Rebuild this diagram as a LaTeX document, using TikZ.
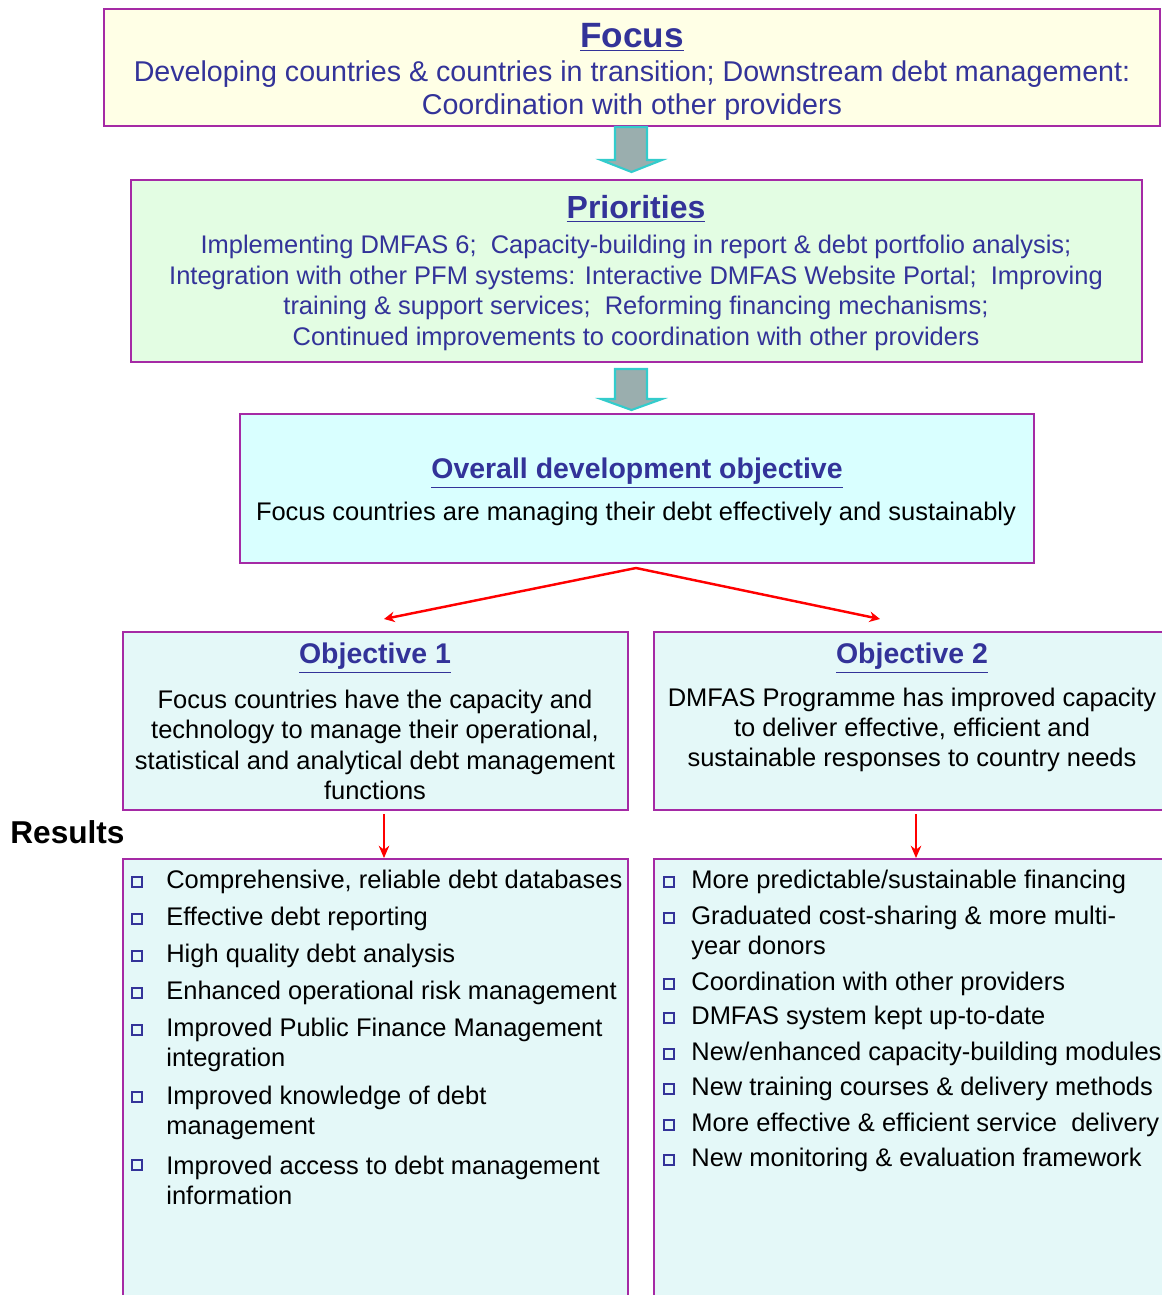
\documentclass[tikz,border=0pt]{standalone}
\usepackage{fontspec}
\setmainfont{Liberation Sans}
\usetikzlibrary{arrows.meta}

\definecolor{boxline}{HTML}{A52AA5}
\definecolor{navy}{HTML}{333399}
\definecolor{focusfill}{HTML}{FFFFE6}
\definecolor{priofill}{HTML}{E3FDE3}
\definecolor{overfill}{HTML}{D9FFFF}
\definecolor{objfill}{HTML}{E4F8F8}
\definecolor{blockfill}{HTML}{9AAEAE}
\definecolor{blockline}{HTML}{33CCCC}

\tikzset{
  panel/.style={draw=boxline, line width=0.9pt},
  blockarrow/.style={draw=blockline, fill=blockfill, line width=1.2pt, line join=miter},
  redarrow/.style={draw=red, line width=1.4pt, -{Stealth[length=6pt,width=6pt]}},
  downarrow/.style={draw=red, line width=1pt, -{Stealth[length=7pt,width=6pt]}},
  bigtitle/.style={text=navy, font=\fontsize{19}{22}\selectfont\bfseries},
  subtitle/.style={text=navy, font=\fontsize{16.2}{19}\selectfont\bfseries},
  bluetext/.style={text=navy, align=center},
  bodytext/.style={text=black, align=center, font=\fontsize{14.5}{17.3}\selectfont},
  itemtext/.style={text=black, anchor=west, align=left, inner sep=0pt, font=\fontsize{14.5}{17}\selectfont},
  bullet/.style={draw=navy, line width=0.9pt, inner sep=0pt, minimum size=5.6pt}
}

\newcommand\downblock[3]{%
  \draw[blockarrow] (615,#1) -- (647,#1) -- (647,#2) -- (662,#2) -- (631.5,#3) -- (601,#2) -- (615,#2) -- cycle;}

\begin{document}
\begin{tikzpicture}[x=0.02cm, y=-0.02cm]
  \useasboundingbox (0,0) rectangle (1161,1295);

  % focus
  \draw[panel, fill=focusfill] (104,9) rectangle (1160,126);
  \node[bigtitle, font=\fontsize{20}{23}\selectfont\bfseries] (focustitle) at (632,37) {\underline{Focus}};
  \node[bluetext, font=\fontsize{16.3}{18.7}\selectfont] (focusbody) at (632,91)
    {Developing countries \& countries in transition; Downstream debt management:\\
     Coordination with other providers};
  \downblock{127}{160}{172}

  % priorities
  \draw[panel, fill=priofill] (131,180) rectangle (1142,362);
  \node[bigtitle, font=\fontsize{18.2}{21}\selectfont\bfseries] (priotitle) at (636,209) {\underline{Priorities}};
  \node[bluetext, font=\fontsize{14.5}{17.4}\selectfont] (priobody) at (636,293)
    {Implementing DMFAS 6;\ \ Capacity-building in report \& debt portfolio analysis;\\
     Integration with other PFM systems: Interactive DMFAS Website Portal;\ \ Improving\\
     training \& support services;\ \ Reforming financing mechanisms;\\
     Continued improvements to coordination with other providers};
  \downblock{369}{399}{410}

  % overall objective
  \draw[panel, fill=overfill] (240,414) rectangle (1034,563);
  \node[subtitle] (overtitle) at (637,473) {\underline{Overall development objective}};
  \node[bodytext] (overbody) at (636,514)
    {Focus countries are managing their debt effectively and sustainably};

  \coordinate (split) at (636,568);
  \coordinate (obj1in) at (384,619);
  \coordinate (obj2in) at (880,619);
  \draw[redarrow] (split) -- (obj1in);
  \draw[redarrow] (split) -- (obj2in);

  % objectives
  \draw[panel, fill=objfill] (123,632) rectangle (628,810);
  \draw[panel, fill=objfill] (654,632) rectangle (1175,810);
  \node[subtitle] (obj1title) at (375,658) {\underline{Objective 1}};
  \node[bodytext] (obj1body) at (375,745)
    {Focus countries have the capacity and\\
     technology to manage their operational,\\
     statistical and analytical debt management\\
     functions};
  \node[subtitle] (obj2title) at (912,658) {\underline{Objective 2}};
  \node[bodytext] (obj2body) at (912,730)
    {DMFAS Programme has improved capacity\\
     to deliver effective, efficient and\\
     sustainable responses to country needs};

  \node[anchor=west, inner sep=0pt, font=\fontsize{18}{21}\selectfont\bfseries] (results) at (10,832) {Results};

  \coordinate (obj1out) at (384,814);
  \coordinate (res1in) at (384,858);
  \coordinate (obj2out) at (916,814);
  \coordinate (res2in) at (916,858);
  \draw[downarrow] (obj1out) -- (res1in);
  \draw[downarrow] (obj2out) -- (res2in);

  % results
  \draw[panel, fill=objfill] (123,859) rectangle (628,1305);
  \draw[panel, fill=objfill] (654,859) rectangle (1175,1305);

  \node[bullet] (lb1) at (137,882) {};
  \node[itemtext] (li1) at (166,882) {Comprehensive, reliable debt databases};
  \node[bullet] (lb2) at (137,919) {};
  \node[itemtext] (li2) at (166,919) {Effective debt reporting};
  \node[bullet] (lb3) at (137,956) {};
  \node[itemtext] (li3) at (166,956) {High quality debt analysis};
  \node[bullet] (lb4) at (137,993) {};
  \node[itemtext] (li4) at (166,993) {Enhanced operational risk management};
  \node[bullet] (lb5) at (137,1030) {};
  \node[itemtext] (li5) at (166,1045) {Improved Public Finance Management\\integration};
  \node[bullet] (lb6) at (137,1097) {};
  \node[itemtext] (li6) at (166,1112.5) {Improved knowledge of debt\\management};
  \node[bullet] (lb7) at (137,1165) {};
  \node[itemtext] (li7) at (166,1180) {Improved access to debt management\\information};

  \node[bullet] (rb1) at (669,882) {};
  \node[itemtext] (ri1) at (691,882) {More predictable/sustainable financing};
  \node[bullet] (rb2) at (669,918) {};
  \node[itemtext] (ri2) at (691,933) {Graduated cost-sharing \& more multi-\\year donors};
  \node[bullet] (rb3) at (669,984) {};
  \node[itemtext] (ri3) at (691,984) {Coordination with other providers};
  \node[bullet] (rb4) at (669,1018) {};
  \node[itemtext] (ri4) at (691,1018) {DMFAS system kept up-to-date};
  \node[bullet] (rb5) at (669,1054) {};
  \node[itemtext] (ri5) at (691,1054) {New/enhanced capacity-building modules};
  \node[bullet] (rb6) at (669,1089) {};
  \node[itemtext] (ri6) at (691,1089) {New training courses \& delivery methods};
  \node[bullet] (rb7) at (669,1125) {};
  \node[itemtext] (ri7) at (691,1125) {More effective \& efficient service\ \ delivery};
  \node[bullet] (rb8) at (669,1160) {};
  \node[itemtext] (ri8) at (691,1160) {New monitoring \& evaluation framework};
\end{tikzpicture}
\end{document}
